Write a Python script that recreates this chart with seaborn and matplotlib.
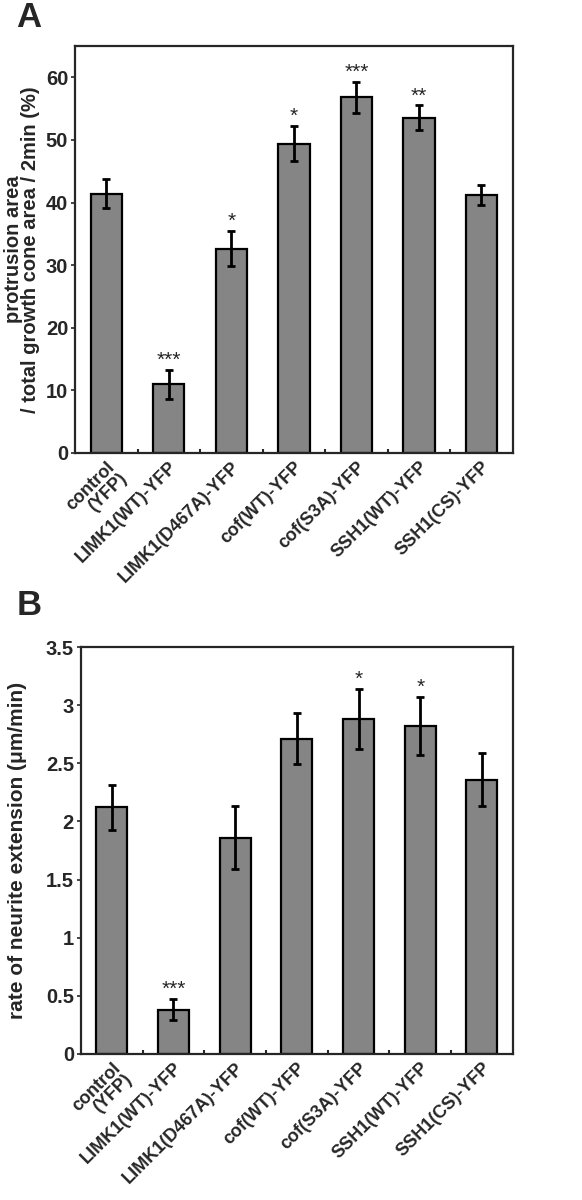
import numpy as np
import pandas as pd
import matplotlib
matplotlib.use("Agg")
import matplotlib.pyplot as plt
import seaborn as sns

# category labels (shared by both panels)
groups = ["control\n(YFP)", "LIMK1(WT)-YFP", "LIMK1(D467A)-YFP", "cof(WT)-YFP",
          "cof(S3A)-YFP", "SSH1(WT)-YFP", "SSH1(CS)-YFP"]

# panel A: protrusion area / total growth cone area / 2min (%)
protrusion = [41.4, 11.0, 32.6, 49.4, 56.8, 53.5, 41.2]
protrusion_err = [2.3, 2.3, 2.8, 2.8, 2.5, 2.0, 1.6]
protrusion_sig = ["", "***", "*", "*", "***", "**", ""]

# panel B: rate of neurite extension (um/min)
extension = [2.12, 0.38, 1.86, 2.71, 2.88, 2.82, 2.36]
extension_err = [0.19, 0.09, 0.27, 0.22, 0.26, 0.25, 0.23]
extension_sig = ["", "***", "", "", "*", "*", ""]

sns.set_style("ticks")
plt.rcParams["font.family"] = ["Liberation Sans", "DejaVu Sans"]

fig = plt.figure(figsize=(5.82, 12), dpi=100)
axA = fig.add_axes([0.129, 0.6225, 0.752, 0.3392])
axB = fig.add_axes([0.139, 0.1217, 0.742, 0.3391])


def draw_panel(ax, vals, errs, sigs, ylim, yticks, yticklabels, ylabel, tick_fs,
               label_fs, label_x):
    df = pd.DataFrame({"group": groups, "value": vals})
    sns.barplot(data=df, x="group", y="value", color="#858585", width=0.5,
                edgecolor="black", linewidth=1.6, saturation=1, errorbar=None, ax=ax)
    xs = np.arange(len(groups))
    ax.errorbar(xs, vals, yerr=errs, fmt="none", ecolor="black",
                elinewidth=2, capsize=3, capthick=2)
    for x, v, e, s in zip(xs, vals, errs, sigs):
        if s:
            ax.annotate(s, (x, v + e), xytext=(0, 0), textcoords="offset points",
                        ha="center", va="bottom", fontsize=15)
    ax.set_xlim(-0.5, len(groups) - 0.5)
    ax.set_ylim(*ylim)
    ax.set_yticks(yticks)
    ax.set_yticklabels(yticklabels, fontsize=tick_fs, fontweight="bold")
    ax.set_xticks(xs)
    ax.set_xticklabels(groups, rotation=45, ha="right", rotation_mode="anchor",
                       fontsize=13, fontweight="bold", linespacing=0.95)
    ax.tick_params(axis="x", length=0, pad=4)
    ax.set_xticks(xs[:-1] + 0.5, minor=True)
    ax.tick_params(axis="x", which="minor", direction="in", length=3, width=1.5)
    ax.tick_params(axis="y", direction="out", length=3, width=1.2, pad=2)
    ax.set_xlabel("")
    ax.set_ylabel(ylabel, fontsize=label_fs, fontweight="bold", linespacing=0.9)
    ax.yaxis.set_label_coords(label_x, 0.5)
    for sp in ax.spines.values():
        sp.set_linewidth(1.6)
        sp.set_visible(True)


draw_panel(axA, protrusion, protrusion_err, protrusion_sig, (0, 65),
           [0, 10, 20, 30, 40, 50, 60], ["0", "10", "20", "30", "40", "50", "60"],
           "protrusion area\n/ total growth cone area / 2min (%)", 14.5, 14.5, -0.08)
draw_panel(axB, extension, extension_err, extension_sig, (0, 3.5),
           [0, 0.5, 1, 1.5, 2, 2.5, 3, 3.5],
           ["0", "0.5", "1", "1.5", "2", "2.5", "3", "3.5"],
           "rate of neurite extension (μm/min)", 14.5, 15, -0.125)

fig.text(0.028, 0.999, "A", fontsize=25, fontweight="bold", va="top", ha="left")
fig.text(0.028, 0.509, "B", fontsize=25, fontweight="bold", va="top", ha="left")

fig.savefig("out.png", dpi=100)
